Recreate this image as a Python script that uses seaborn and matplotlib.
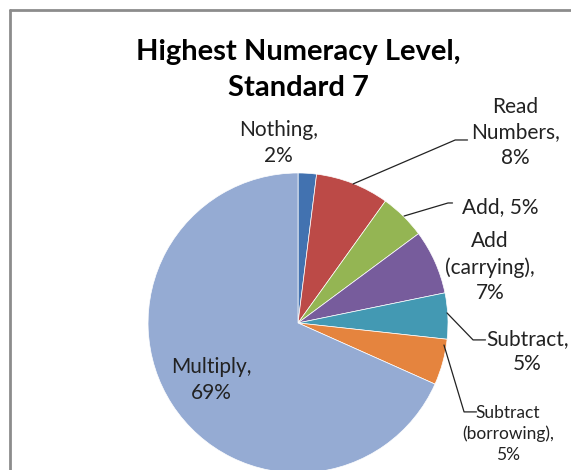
import matplotlib
matplotlib.use("Agg")
import matplotlib.pyplot as plt
import seaborn as sns
from matplotlib.lines import Line2D

# data
levels = ["Nothing,\n", "Read\nNumbers,\n", "Add, ", "Add\n(carrying),\n", "Subtract,\n",
          "Subtract\n(borrowing),\n", "Multiply,\n"]
shares = [2, 8, 5, 7, 5, 5, 69]
colors = ["#4272B0", "#BC4A47", "#94B553", "#775C9C", "#4399B3", "#E5843E", "#95ABD3"]

sns.set_theme(style="white")
plt.rcParams['font.family'] = ['Lato', 'DejaVu Sans']

fig = plt.figure(figsize=(5.71, 4.70), dpi=100)
ax = fig.add_axes([0, 0, 1, 1])
ax.pie(shares, colors=colors, startangle=90, counterclock=False,
       wedgeprops=dict(linewidth=0.5, edgecolor='white'))
ax.set_xlim(-1.987, 1.82)
ax.set_ylim(-0.98, 2.153)
ax.axis('off')

# label layout: text position, optional leader (elbow, start on pie), font size
layout = [
    ((-0.13, 1.20), None, 15),
    ((1.45, 1.27), [(1.13, 1.22), (1.048, 1.22), (0.367, 0.927)], 15),
    ((1.35, 0.77), [(1.03, 0.80), (1.0, 0.80), (0.707, 0.713)], 15),
    ((1.28, 0.37), None, 15),
    ((1.53, -0.19), [(1.25, -0.113), (1.167, -0.113), (0.993, 0.067)], 15),
    ((1.40, -0.74), [(1.19, -0.593), (1.107, -0.593), (0.973, -0.147)], 12.5),
    ((-0.58, -0.38), None, 15),
]
for name, val, (pos, leader, fs) in zip(levels, shares, layout):
    ax.text(pos[0], pos[1], f"{name}{val}%", ha='center', va='center',
            fontsize=fs, color='#222222', linespacing=1.35)
    if leader:
        xs, ys = zip(*leader)
        ax.plot(xs, ys, color='#222222', lw=0.9)

fig.text(298 / 571, 1 - 70 / 470, "Highest Numeracy Level,\nStandard 7",
         ha='center', va='center', fontsize=21, fontweight='bold',
         color='black', linespacing=1.45)

# chart frame (cropped on the right and bottom)
fig.add_artist(Line2D([10 / 571, 10 / 571], [0, 1 - 10 / 470], color='#8c8c8c', lw=2))
fig.add_artist(Line2D([10 / 571, 1], [1 - 10 / 470, 1 - 10 / 470], color='#8c8c8c', lw=2))

fig.savefig("out.png", dpi=100)
